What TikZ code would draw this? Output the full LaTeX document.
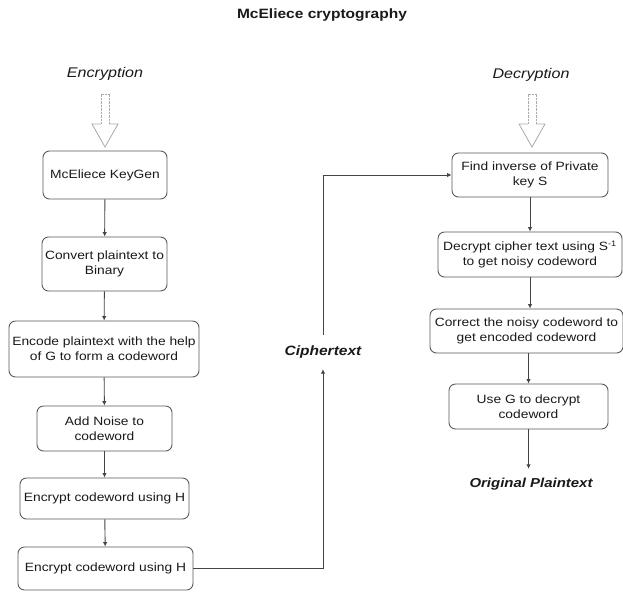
\documentclass[tikz,border=0pt]{standalone}
\usepackage{fontspec}
\setmainfont{Liberation Sans}[FakeStretch=1.15]
\usetikzlibrary{arrows.meta}
\definecolor{boxgray}{HTML}{5A5A5A}
\definecolor{linegray}{HTML}{444444}
\definecolor{txt}{HTML}{1A1A1A}
\definecolor{hollow}{HTML}{AAAAAA}
\begin{document}
\begin{tikzpicture}[x=1pt,y=-1pt,
  stepbox/.style={draw=boxgray,line width=0.9pt,rounded corners=6.5pt,align=center,
    text=txt,inner sep=0pt,font=\fontsize{12}{15}\selectfont},
  conn/.style={draw=linegray,line width=0.9pt,-{Latex[length=4.5pt,width=4.5pt]}},
  lbl/.style={text=txt,inner sep=0pt},
  hshaft/.style={draw=hollow,line width=0.7pt,dash pattern=on 2.5pt off 1pt},
  hhead/.style={draw=hollow,line width=0.8pt,line join=miter}]
\useasboundingbox (0,0) rectangle (623,592);
\fill[white] (0,0) rectangle (623,592);

% title
\node[lbl,font=\fontsize{13.5}{16}\selectfont\bfseries] (title) at (322,15) {McEliece cryptography};

% column labels
\node[lbl,font=\fontsize{14}{17}\selectfont\itshape] (enclbl) at (105,74) {Encryption};
\node[lbl,font=\fontsize{14}{17}\selectfont\itshape] (declbl) at (531,75) {Decryption};

% hollow arrows
\foreach \cx in {105,532}{
  \draw[hshaft] (\cx-4,94) -- (\cx-4,124) (\cx+4,94) -- (\cx+4,124) (\cx-4,94) -- (\cx+4,94);
  \draw[hhead] (\cx-4,124) -- (\cx-13,124) -- (\cx,147) -- (\cx+13,124) -- (\cx+4,124);
}

% encryption column
\node[stepbox,minimum width=124pt,minimum height=48pt] (keygen) at (105,175) {McEliece KeyGen};
\node[stepbox,minimum width=125pt,minimum height=54pt] (conv) at (104.5,264) {Convert plaintext to\\Binary};
\node[stepbox,minimum width=190pt,minimum height=56pt] (encode) at (104,349) {Encode plaintext with the help\\of G to form a codeword};
\node[stepbox,minimum width=135pt,minimum height=45pt] (noise) at (104.5,428.5) {Add Noise to\\codeword};
\node[stepbox,minimum width=169pt,minimum height=41pt] (encA) at (104.5,498.5) {Encrypt codeword using H};
\node[stepbox,minimum width=175pt,minimum height=43pt] (encB) at (105.5,568.5) {Encrypt codeword using H};

\draw[conn] (keygen) -- (conv);
\draw[conn] (conv) -- (encode);
\draw[conn] (encode) -- (noise);
\draw[conn] (noise) -- (encA);
\draw[conn] (encA) -- (encB);

% ciphertext
\node[lbl,font=\fontsize{13.5}{16}\selectfont\bfseries\itshape,minimum height=34pt] (cipher) at (323,352) {Ciphertext};

% decryption column
\node[stepbox,minimum width=156pt,minimum height=44pt] (finv) at (530,175) {Find inverse of Private\\key S};
\node[stepbox,minimum width=184pt,minimum height=45pt] (dec) at (530,254.5) {Decrypt cipher text using S\textsuperscript{-1}\\to get noisy codeword};
\node[stepbox,minimum width=193pt,minimum height=44pt] (corr) at (526.5,331) {Correct the noisy codeword to\\get encoded codeword};
\node[stepbox,minimum width=159pt,minimum height=45pt] (useg) at (528.5,406.5) {Use G to decrypt\\codeword};
\node[lbl,font=\fontsize{13}{16}\selectfont\bfseries\itshape,minimum height=30pt] (orig) at (531,484) {Original Plaintext};

\draw[conn] (encB.east) -| (cipher.south);
\draw[conn] (cipher.north) |- (finv.west);
\draw[conn] (finv) -- (dec);
\draw[conn] (dec) -- (corr.north -| dec.south);
\draw[conn] (corr.south -| useg.north) -- (useg);
\draw[conn] (useg.south) -- (orig.north -| useg.south);
\end{tikzpicture}
\end{document}
